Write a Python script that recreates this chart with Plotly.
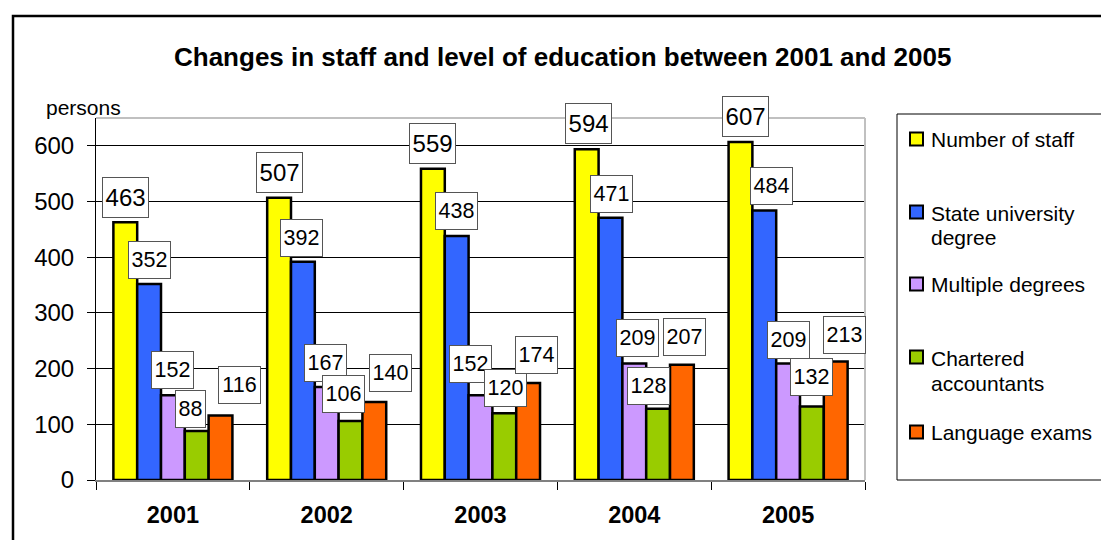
import plotly.graph_objects as go

# ---- data ----
years = ['2001', '2002', '2003', '2004', '2005']
staff = [463, 507, 559, 594, 607]
state_univ = [352, 392, 438, 471, 484]
multiple = [152, 167, 152, 209, 209]
chartered = [88, 106, 120, 128, 132]
language = [116, 140, 174, 207, 213]
series_names = ['Number of staff', 'State university degree', 'Multiple degrees',
                'Chartered accountants', 'Language exams']
legend_lines = [['Number of staff'], ['State university', 'degree'], ['Multiple degrees'],
                ['Chartered', 'accountants'], ['Language exams']]
y_ticks = [0, 100, 200, 300, 400, 500, 600]

# ---- styling / positions ----
colors = ['#FFFF00', '#3366FF', '#CC99FF', '#99CC00', '#FF6600']
label_offsets = [
    [(0, 4), (0, 5), (0, 5), (2, 5), (5, 5)],
    [(0, 5), (-1, 5), (0, 6), (1, 5), (7, 5)],
    [(0, 6), (-1, 5), (-10, 12), (3, 7), (0, 5)],
    [(-6, 3), (-7, 8), (1, 6), (-10, 4), (0, 10)],
    [(19, 11), (16, 10), (8, 9), (3, 9), (9, 7)],
]
label_sizes = [24, 21.5, 21.5, 21.5, 21.5]
label_digit_w = [13.4, 12, 12, 12, 12]
label_box_h = [35, 32, 32, 32, 32]
FONT = 'Liberation Sans, Arial, sans-serif'

W, H = 1101, 540
PL, PR, PT, PB = 96, 865, 118, 480  # plot area in px
BARGAP = 0.226


def px(x):
    return (x - PL) / (PR - PL)


def py(y):
    return (PB - y) / (PB - PT)


values = [staff, state_univ, multiple, chartered, language]
fig = go.Figure()
for name, vals, col in zip(series_names, values, colors):
    fig.add_trace(go.Bar(x=years, y=vals, name=name, marker=dict(color=col, line=dict(color='black', width=2.5)),
                         showlegend=False))

bar_px = (PR - PL) / len(years) * (1 - BARGAP) / len(series_names)
annotations = []
for j, vals in enumerate(values):
    for i, v in enumerate(vals):
        dx, gap = label_offsets[j][i]
        txt = str(v)
        annotations.append(dict(
            x=i, y=v, xref='x', yref='y', text=txt, showarrow=False,
            xanchor='center', yanchor='bottom', xshift=(j - 2) * bar_px + dx, yshift=gap,
            width=len(txt) * label_digit_w[j] + 1, height=label_box_h[j], align='center', valign='middle',
            font=dict(family=FONT, size=label_sizes[j], color='black'),
            bgcolor='white', bordercolor='#555555', borderwidth=1, borderpad=2))

# title and axis label
annotations.append(dict(x=px(562.5), y=py(57), xref='paper', yref='paper', showarrow=False,
                        text='<b>Changes in staff and level of education between 2001 and 2005</b>',
                        xanchor='center', yanchor='middle', font=dict(family=FONT, size=26, color='black')))
annotations.append(dict(x=px(44), y=py(107), xref='paper', yref='paper', showarrow=False,
                        text='persons', xanchor='left', yanchor='middle',
                        font=dict(family=FONT, size=21, color='black')))

shapes = []
# outer chart border
shapes.append(dict(type='rect', xref='paper', yref='paper', x0=px(13), x1=px(1120), y0=py(16), y1=py(570),
                   line=dict(color='black', width=2.5), fillcolor='rgba(0,0,0,0)', layer='below'))
# plot area top/right gray border
shapes.append(dict(type='line', xref='paper', yref='paper', x0=0, x1=1, y0=1, y1=1,
                   line=dict(color='#C0C0C0', width=2)))
shapes.append(dict(type='line', xref='paper', yref='paper', x0=1, x1=1, y0=0, y1=1,
                   line=dict(color='#C0C0C0', width=2)))
# legend box
shapes.append(dict(type='rect', xref='paper', yref='paper', x0=px(897), x1=px(1130), y0=py(114), y1=py(480),
                   line=dict(color='black', width=1), fillcolor='white'))
legend_rows = [[139], [213, 237], [284], [358, 383], [432]]
for col, lines, ys in zip(colors, legend_lines, legend_rows):
    cy = ys[0] - (1 if len(ys) > 1 else 0)
    shapes.append(dict(type='rect', xref='paper', yref='paper', x0=px(910), x1=px(923),
                       y0=py(cy + 6.5), y1=py(cy - 6.5), line=dict(color='black', width=2), fillcolor=col))
    for t, yy in zip(lines, ys):
        annotations.append(dict(x=px(929), y=py(yy), xref='paper', yref='paper', showarrow=False, text=t,
                                xanchor='left', yanchor='middle', font=dict(family=FONT, size=21, color='black')))

fig.update_layout(
    width=W, height=H,
    margin=dict(l=PL, r=W - PR, t=PT, b=H - PB, pad=0),
    paper_bgcolor='white', plot_bgcolor='white',
    barmode='group', bargap=BARGAP, bargroupgap=0,
    font=dict(family=FONT, color='black'),
    annotations=annotations, shapes=shapes, showlegend=False,
)
fig.update_xaxes(type='category', range=[-0.5, len(years) - 0.5], autorange=False,
                 showgrid=False, showline=True, linecolor='#808080', linewidth=2,
                 ticks='outside', tickson='boundaries', ticklen=8, tickcolor='black', tickwidth=1,
                 tickfont=dict(family=FONT, size=23.5, color='black'), ticklabelstandoff=13,
                 tickprefix='<b>', ticksuffix='</b>', automargin=False, fixedrange=True)
fig.update_yaxes(range=[0, 650], autorange=False, tickvals=y_ticks, showgrid=True, gridcolor='black', gridwidth=1,
                 showline=True, linecolor='black', linewidth=1, zeroline=False,
                 ticks='outside', ticklen=8, tickcolor='black', tickwidth=1,
                 tickfont=dict(family=FONT, size=24, color='black'), ticklabelstandoff=8,
                 automargin=False, fixedrange=True)

fig.write_html('out.html')
